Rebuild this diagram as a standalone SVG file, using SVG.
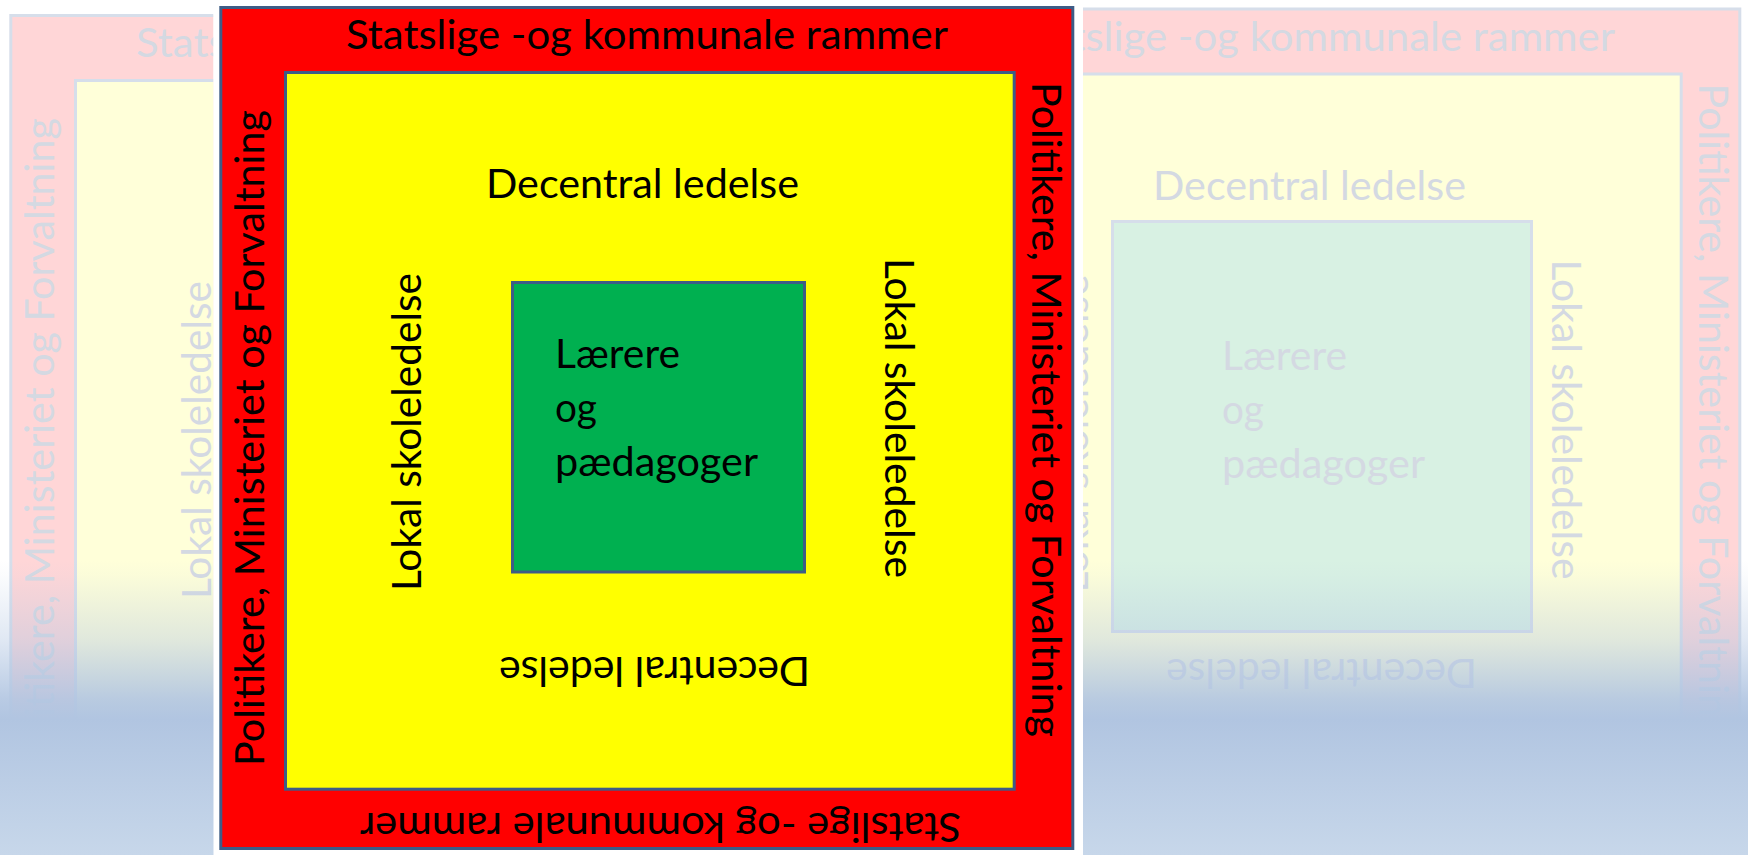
<svg xmlns="http://www.w3.org/2000/svg" width="1748" height="855" viewBox="0 0 1748 855">
  <defs>
    <style>
      .t { font-family: "Lato", "Liberation Sans", sans-serif; font-size: 40px; fill: #000000; }
      .ft { font-family: "Lato", "Liberation Sans", sans-serif; font-size: 40px; fill: #D4D9E2; }
      .bd { stroke: #3E5C86; stroke-width: 3; }
      .fbd { stroke: #D6DEEA; stroke-width: 3; }
    </style>
    <clipPath id="clipLeft"><rect x="0" y="0" width="213.5" height="855"/></clipPath>
    <clipPath id="clipRight"><rect x="1083" y="0" width="665" height="855"/></clipPath>
    <linearGradient id="fadeBlue" gradientUnits="userSpaceOnUse" x1="0" y1="560" x2="0" y2="855">
      <stop offset="0" stop-color="#B2C6E2" stop-opacity="0"/>
      <stop offset="0.05" stop-color="#B2C6E2" stop-opacity="0.05"/>
      <stop offset="0.27" stop-color="#B2C6E2" stop-opacity="0.4"/>
      <stop offset="0.47" stop-color="#B1C5E1" stop-opacity="0.9"/>
      <stop offset="0.54" stop-color="#B1C5E1" stop-opacity="1"/>
      <stop offset="1" stop-color="#C7D7EA" stop-opacity="1"/>
    </linearGradient>
  </defs>

  <rect x="0" y="0" width="1748" height="855" fill="#FFFFFF"/>

  <!-- faded left slide -->
  <g id="left-slide" clip-path="url(#clipLeft)">
    <rect x="10.8" y="15.5" width="852" height="841" fill="#FFD6D7" class="fbd"/>
    <rect x="75.5" y="80.5" width="728.7" height="716.7" fill="#FFFFD9" class="fbd"/>
    <text class="ft" x="136" y="57" textLength="602" lengthAdjust="spacingAndGlyphs">Statslige -og kommunale rammer</text>
    <text class="ft" transform="translate(53.5,774) rotate(-90)" textLength="656" lengthAdjust="spacingAndGlyphs">Politikere, Ministeriet og Forvaltning</text>
    <text class="ft" transform="translate(210.5,599) rotate(-90)" textLength="318" lengthAdjust="spacingAndGlyphs">Lokal skoleledelse</text>
  </g>

  <!-- faded right slide -->
  <g id="right-slide" clip-path="url(#clipRight)">
    <rect x="887.8" y="9" width="852" height="841" fill="#FFD6D7" class="fbd"/>
    <rect x="952.5" y="74" width="728.7" height="716.7" fill="#FFFFD9" class="fbd"/>
    <rect x="1112.5" y="221.5" width="419" height="410" fill="#D8F1E3" class="fbd"/>
    <text class="ft" x="1013" y="50.5" textLength="602" lengthAdjust="spacingAndGlyphs">Statslige -og kommunale rammer</text>
    <text class="ft" x="1153" y="199.5" textLength="313" lengthAdjust="spacingAndGlyphs">Decentral ledelse</text>
    <text class="ft" transform="translate(1477,658.5) rotate(180)" textLength="311" lengthAdjust="spacingAndGlyphs">Decentral ledelse</text>
    <text class="ft" transform="translate(1087.5,592.5) rotate(-90)" textLength="318" lengthAdjust="spacingAndGlyphs">Lokal skoleledelse</text>
    <text class="ft" transform="translate(1552,259.5) rotate(90)" textLength="320" lengthAdjust="spacingAndGlyphs">Lokal skoleledelse</text>
    <text class="ft" transform="translate(1698.7,83.5) rotate(90)" textLength="655" lengthAdjust="spacingAndGlyphs">Politikere, Ministeriet og Forvaltning</text>
    <text class="ft" x="1222" y="369.5" textLength="125" lengthAdjust="spacingAndGlyphs">Lærere</text>
    <text class="ft" x="1222" y="423.5" textLength="42" lengthAdjust="spacingAndGlyphs">og</text>
    <text class="ft" x="1222" y="477.5" textLength="203" lengthAdjust="spacingAndGlyphs">pædagoger</text>
  </g>

  <!-- reflection / floor gradient -->
  <rect x="0" y="560" width="1748" height="295" fill="url(#fadeBlue)"/>

  <!-- main slide frame -->
  <rect x="213.5" y="0" width="869.5" height="855" fill="#FFFFFF"/>

  <g id="frame-red">
    <rect x="220.8" y="7.5" width="852" height="841" fill="#FF0000" class="bd"/>
    <text class="t" x="346" y="49" textLength="602" lengthAdjust="spacingAndGlyphs">Statslige -og kommunale rammer</text>
    <text class="t" transform="translate(961,813) rotate(180)" textLength="601" lengthAdjust="spacingAndGlyphs">Statslige -og kommunale rammer</text>
    <text class="t" transform="translate(263.5,766) rotate(-90)" textLength="656" lengthAdjust="spacingAndGlyphs">Politikere, Ministeriet og Forvaltning</text>
    <text class="t" transform="translate(1031.7,82) rotate(90)" textLength="655" lengthAdjust="spacingAndGlyphs">Politikere, Ministeriet og Forvaltning</text>
  </g>

  <g id="frame-yellow">
    <rect x="285.5" y="72.5" width="728.7" height="716.7" fill="#FFFF00" class="bd"/>
    <text class="t" x="486" y="198" textLength="313" lengthAdjust="spacingAndGlyphs">Decentral ledelse</text>
    <text class="t" transform="translate(810,657) rotate(180)" textLength="311" lengthAdjust="spacingAndGlyphs">Decentral ledelse</text>
    <text class="t" transform="translate(420.5,591) rotate(-90)" textLength="318" lengthAdjust="spacingAndGlyphs">Lokal skoleledelse</text>
    <text class="t" transform="translate(885,258) rotate(90)" textLength="320" lengthAdjust="spacingAndGlyphs">Lokal skoleledelse</text>
  </g>

  <g id="box-green">
    <rect x="512.5" y="282.5" width="292" height="289.5" fill="#00B050" class="bd"/>
    <text class="t" x="555" y="368" textLength="125" lengthAdjust="spacingAndGlyphs">Lærere</text>
    <text class="t" x="555" y="422" textLength="42" lengthAdjust="spacingAndGlyphs">og</text>
    <text class="t" x="555" y="476" textLength="203" lengthAdjust="spacingAndGlyphs">pædagoger</text>
  </g>

  <g id="connectors"></g>
</svg>
